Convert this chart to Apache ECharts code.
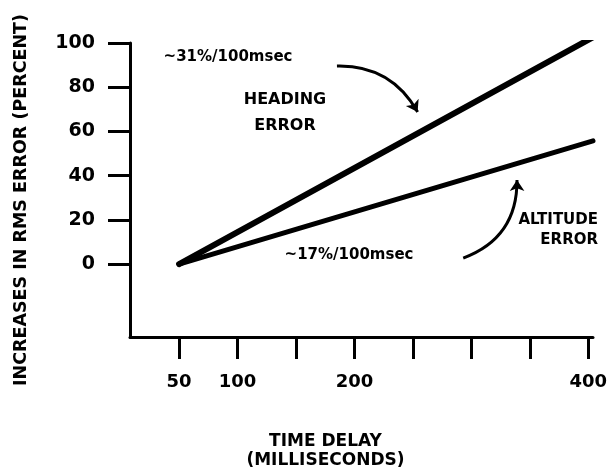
<!DOCTYPE html>
<html>
<head>
<meta charset="utf-8">
<script src="https://cdn.jsdelivr.net/npm/echarts@6/dist/echarts.min.js"></script>
<style>
html,body{margin:0;padding:0;background:#fff;}
#c{width:608px;height:475px;}
</style>
</head>
<body>
<div id="c"></div>
<script>
// ---- data ----
var headingData = [[50, 0], [404, 102.6]];
var altitudeData = [[50, 0], [404, 55.7]];
var xTickValues = [50, 100, 150, 200, 250, 300, 350, 400];
var xLabelValues = [50, 100, 200, 400];
var yTickValues = [0, 20, 40, 60, 80, 100];
var headingArrow = [[185, 89.6], [254, 68.8]];
var altitudeArrow = [[293, 2.7], [339, 38]];

var FONT = '"DejaVu Sans", sans-serif';
var chart = echarts.init(document.getElementById('c'));
chart.setOption({
  animation: false,
  backgroundColor: '#fff',
  grid: {left: 130, right: 15, top: 43, bottom: 138, containLabel: false, outerBoundsMode: 'none'},
  xAxis: {
    type: 'value', min: 8, max: 404,
    name: 'TIME DELAY\n(MILLISECONDS)',
    nameLocation: 'middle', nameGap: 95,
    nameTextStyle: {fontFamily: FONT, fontWeight: 'bold', fontSize: 17, color: '#000', lineHeight: 19, padding: [0, 72, 0, 0]},
    splitLine: {show: false},
    axisLine: {show: true, onZero: false, lineStyle: {color: '#000', width: 3}},
    axisTick: {show: true, inside: false, length: 22, lineStyle: {color: '#000', width: 3}, customValues: xTickValues},
    axisLabel: {show: true, margin: 36, fontFamily: FONT, fontWeight: 'bold', fontSize: 18, color: '#000', customValues: xLabelValues}
  },
  yAxis: {
    type: 'value', min: -33, max: 100,
    name: 'INCREASES IN RMS ERROR (PERCENT)',
    nameLocation: 'middle', nameGap: 100,
    nameTextStyle: {fontFamily: FONT, fontWeight: 'bold', fontSize: 17.5, color: '#000', padding: [0, 20, 0, 0]},
    splitLine: {show: false},
    axisLine: {show: true, onZero: false, lineStyle: {color: '#000', width: 3}},
    axisTick: {show: true, inside: false, length: 22, lineStyle: {color: '#000', width: 3}, customValues: yTickValues},
    axisLabel: {show: true, margin: 35, fontFamily: FONT, fontWeight: 'bold', fontSize: 19, color: '#000', customValues: yTickValues}
  },
  series: [
    {type: 'line', name: 'HEADING ERROR', data: headingData, showSymbol: false, symbol: 'none',
     lineStyle: {color: '#000', width: 6, cap: 'round'}},
    {type: 'line', name: 'ALTITUDE ERROR', data: altitudeData, showSymbol: false, symbol: 'none',
     lineStyle: {color: '#000', width: 5, cap: 'round'}},
    {type: 'lines', coordinateSystem: 'cartesian2d', symbol: ['none', 'arrow'], symbolSize: 11,
     lineStyle: {color: '#000', width: 3, opacity: 1, curveness: 0.3},
     data: [{coords: headingArrow}]},
    {type: 'lines', coordinateSystem: 'cartesian2d', symbol: ['none', 'arrow'], symbolSize: 11,
     lineStyle: {color: '#000', width: 3, opacity: 1, curveness: -0.35},
     data: [{coords: altitudeArrow}]}
  ],
  graphic: [
    {type: 'text', x: 228, y: 57, style: {text: '~31%/100msec', font: 'bold 15px "DejaVu Sans"', fill: '#000', align: 'center', verticalAlign: 'middle'}},
    {type: 'text', x: 285, y: 113, style: {text: 'HEADING\nERROR', font: 'bold 16px "DejaVu Sans"', lineHeight: 26, fill: '#000', align: 'center', verticalAlign: 'middle'}},
    {type: 'text', x: 349, y: 255, style: {text: '~17%/100msec', font: 'bold 15px "DejaVu Sans"', fill: '#000', align: 'center', verticalAlign: 'middle'}},
    {type: 'text', x: 598, y: 230, style: {text: 'ALTITUDE\nERROR', font: 'bold 15px "DejaVu Sans"', lineHeight: 20, fill: '#000', align: 'right', verticalAlign: 'middle'}}
  ]
});
</script>
</body>
</html>
